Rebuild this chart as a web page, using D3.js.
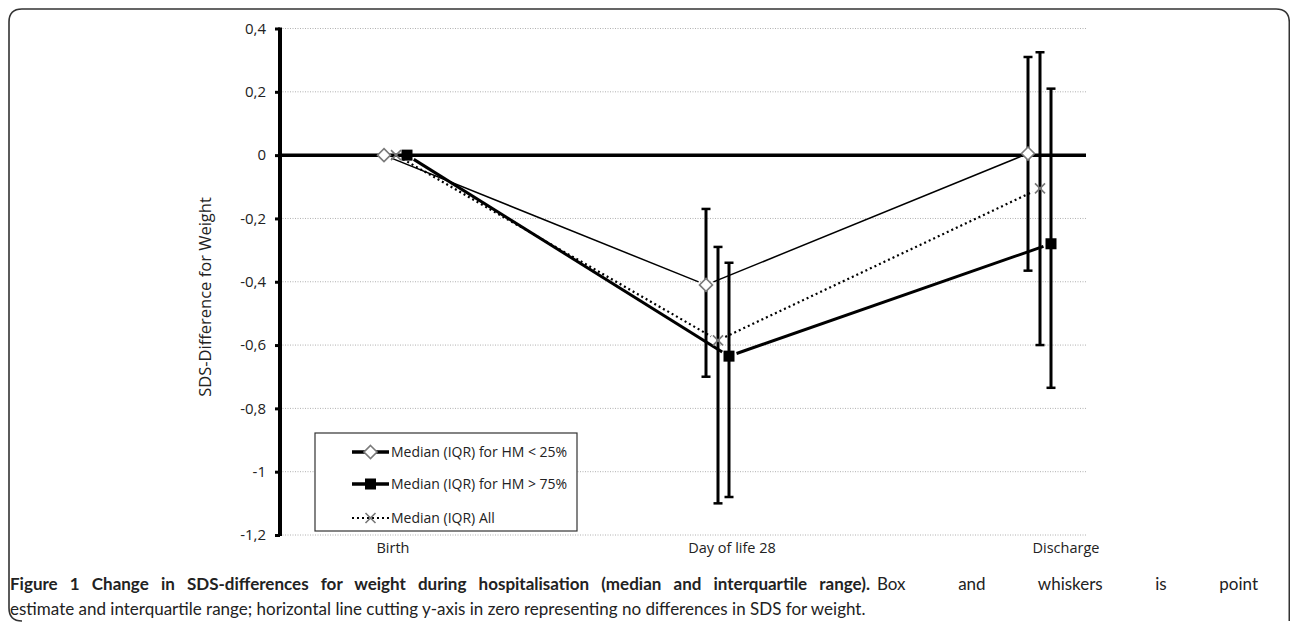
<!DOCTYPE html>
<html><head><meta charset="utf-8">
<script src="https://cdn.jsdelivr.net/npm/d3@7"></script>
<style>body{margin:0;background:#fff} svg{display:block}</style>
</head><body><svg id="c" width="1290" height="625"></svg>
<script>
// ---- data ----
const categories = ["Birth", "Day of life 28", "Discharge"];
const seriesNames = ["Median (IQR) for HM < 25%", "Median (IQR) for HM > 75%", "Median (IQR) All"];
const medLow = [0, -0.41, 0.005];
const q1Low = [0, -0.70, -0.365];
const q3Low = [0, -0.17, 0.31];
const medHigh = [0, -0.635, -0.28];
const q1High = [0, -1.08, -0.735];
const q3High = [0, -0.34, 0.21];
const medAll = [0, -0.585, -0.105];
const q1All = [0, -1.10, -0.60];
const q3All = [0, -0.29, 0.325];
const yTicks = [0.4, 0.2, 0, -0.2, -0.4, -0.6, -0.8, -1, -1.2];
const yTickLabels = ["0,4", "0,2", "0", "-0,2", "-0,4", "-0,6", "-0,8", "-1", "-1,2"];
const yTitle = "SDS-Difference for Weight";
const captionBold = "Figure 1 Change in SDS-differences for weight during hospitalisation (median and interquartile range).";
const captionRest1 = "Box and whiskers is point";
const captionLine2 = "estimate and interquartile range; horizontal line cutting y-axis in zero representing no differences in SDS for weight.";

// ---- layout ----
const svg = d3.select("#c");
const plotL = 280, plotR = 1086, plotT = 28.5, plotB = 535;
const font = "'Open Sans', sans-serif";

const y = d3.scaleLinear().domain([-1.2, 0.4]).range([plotB, plotT]);
const x = d3.scalePoint().domain(categories).range([396, 1040]);
const labelShift = [-3, 14, 26];

const series = [
  {name: seriesNames[0], med: medLow, lo: q1Low, hi: q3Low, off: -12, marker: "diamond", lw: 1.5, dash: null, legendLw: 3.5},
  {name: seriesNames[1], med: medHigh, lo: q1High, hi: q3High, off: 11, marker: "square", lw: 3, dash: null, legendLw: 3.5},
  {name: seriesNames[2], med: medAll, lo: q1All, hi: q3All, off: 0, marker: "cross", lw: 2.2, dash: "2,3", legendLw: 2}
];

// frame
svg.append("path")
  .attr("d", "M9,608 L9,22 Q9,9 22,9 L1276,9 Q1289,9 1289.3,22 L1289.3,621 M9,608 Q9,621 22,621")
  .attr("fill", "none").attr("stroke", "#333").attr("stroke-width", 1.6);

// gridlines
svg.append("g").selectAll("line").data(yTicks.filter(t => t !== 0)).join("line")
  .attr("x1", plotL).attr("x2", plotR)
  .attr("y1", d => y(d)).attr("y2", d => y(d))
  .attr("stroke", "#b0b0b0").attr("stroke-width", 1).attr("stroke-dasharray", "1,1.5");

// zero line
svg.append("line").attr("x1", plotL).attr("x2", plotR).attr("y1", y(0)).attr("y2", y(0))
  .attr("stroke", "#000").attr("stroke-width", 3.5);

// y axis
const yAxis = d3.axisLeft(y).tickValues(yTicks).tickFormat((d, i) => yTickLabels[i]).tickSize(5).tickPadding(9);
const ga = svg.append("g").attr("transform", `translate(${plotL},0)`).call(yAxis);
ga.select(".domain").remove();
ga.selectAll(".tick line").attr("stroke", "#000").attr("stroke-width", 3);
ga.selectAll(".tick text").attr("font-family", font).attr("font-size", 15).attr("fill", "#222");
svg.append("line").attr("x1", plotL).attr("x2", plotL).attr("y1", plotT - 1).attr("y2", plotB + 1)
  .attr("stroke", "#000").attr("stroke-width", 4);

// y title
svg.append("text").attr("transform", `translate(211,297) rotate(-90)`)
  .attr("text-anchor", "middle").attr("font-family", font).attr("font-size", 16.5).attr("fill", "#222")
  .text(yTitle);

// x labels
svg.append("g").selectAll("text").data(categories).join("text")
  .attr("x", (d, i) => x(d) + labelShift[i]).attr("y", 553).attr("text-anchor", "middle")
  .attr("font-family", font).attr("font-size", 14.5).attr("fill", "#222").text(d => d);

// error bars
series.forEach(s => {
  const g = svg.append("g");
  categories.forEach((c, i) => {
    if (s.hi[i] === s.lo[i]) return;
    const cx = x(c) + s.off;
    g.append("line").attr("x1", cx).attr("x2", cx).attr("y1", y(s.hi[i])).attr("y2", y(s.lo[i]))
      .attr("stroke", "#000").attr("stroke-width", 3);
    [s.hi[i], s.lo[i]].forEach(v => {
      g.append("line").attr("x1", cx - 4.5).attr("x2", cx + 4.5).attr("y1", y(v)).attr("y2", y(v))
        .attr("stroke", "#000").attr("stroke-width", 2.5);
    });
  });
});

// lines (segments with gaps around markers)
const gap = 8;
series.forEach(s => {
  const pts = categories.map((c, i) => [x(c) + s.off, y(s.med[i])]);
  for (let i = 0; i < pts.length - 1; i++) {
    const [x1, y1] = pts[i], [x2, y2] = pts[i + 1];
    const L = Math.hypot(x2 - x1, y2 - y1);
    const ux = (x2 - x1) / L, uy = (y2 - y1) / L;
    const ln = svg.append("line")
      .attr("x1", x1 + ux * gap).attr("y1", y1 + uy * gap)
      .attr("x2", x2 - ux * gap).attr("y2", y2 - uy * gap)
      .attr("stroke", "#000").attr("stroke-width", s.lw);
    if (s.dash) ln.attr("stroke-dasharray", s.dash);
  }
});

function drawMarker(g, type, cx, cy) {
  if (type === "diamond") {
    g.append("path").attr("d", `M${cx},${cy - 6.5} L${cx + 6.5},${cy} L${cx},${cy + 6.5} L${cx - 6.5},${cy} Z`)
      .attr("fill", "#fff").attr("stroke", "#7a7a7a").attr("stroke-width", 1.6);
  } else if (type === "square") {
    g.append("rect").attr("x", cx - 5.5).attr("y", cy - 5.5).attr("width", 11).attr("height", 11).attr("fill", "#000");
  } else {
    g.append("path").attr("d", `M${cx - 5},${cy - 5} L${cx + 5},${cy + 5} M${cx - 5},${cy + 5} L${cx + 5},${cy - 5}`)
      .attr("stroke", "#777").attr("stroke-width", 1.6);
  }
}

series.forEach(s => {
  const g = svg.append("g");
  categories.forEach((c, i) => drawMarker(g, s.marker, x(c) + s.off, y(s.med[i])));
});

// legend
const lg = svg.append("g");
lg.append("rect").attr("x", 315).attr("y", 433).attr("width", 262).attr("height", 98)
  .attr("fill", "#fff").attr("stroke", "#333").attr("stroke-width", 1.2);
const rowY = [452, 484, 518];
series.forEach((s, i) => {
  const ln = lg.append("line").attr("x1", 352).attr("x2", 389).attr("y1", rowY[i]).attr("y2", rowY[i])
    .attr("stroke", "#000").attr("stroke-width", s.legendLw);
  if (s.dash) ln.attr("stroke-dasharray", s.dash);
  drawMarker(lg, s.marker, 370.5, rowY[i]);
  lg.append("text").attr("x", 391).attr("y", rowY[i] + 5).attr("font-family", font).attr("font-size", 14)
    .attr("fill", "#222").text(s.name);
});

// caption (first line justified)
const capFont = "Lato, 'Open Sans', sans-serif";
function fitWords(t, target) {
  const n = (t.text().match(/ /g) || []).length;
  const w = t.node().getComputedTextLength();
  if (n > 0 && target > w) t.attr("word-spacing", (target - w) / n);
}
const cb = svg.append("text").attr("x", 10).attr("y", 590).attr("font-family", capFont).attr("font-size", 17)
  .attr("font-weight", "bold").attr("fill", "#222").text(captionBold);
fitWords(cb, 860);
const cr = svg.append("text").attr("x", 877).attr("y", 590).attr("font-family", capFont).attr("font-size", 17)
  .attr("fill", "#222").text(captionRest1);
fitWords(cr, 1258 - 877);
svg.append("text").attr("x", 10).attr("y", 615).attr("font-family", capFont).attr("font-size", 17).attr("fill", "#222")
  .text(captionLine2);
</script></body></html>
